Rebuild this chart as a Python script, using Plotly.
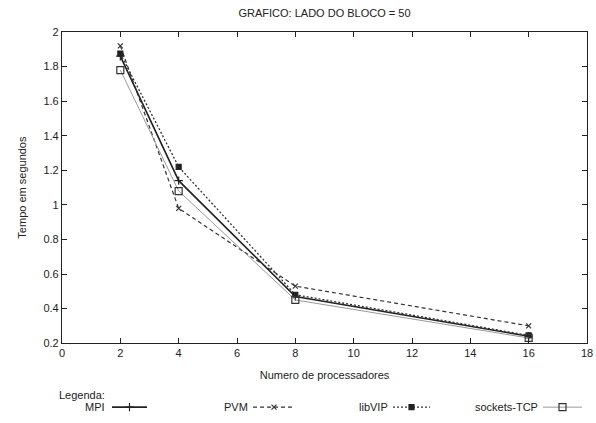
import plotly.graph_objects as go

procs = [2, 4, 8, 16]
mpi = [1.86, 1.14, 0.47, 0.24]
pvm = [1.92, 0.98, 0.53, 0.30]
libvip = [1.875, 1.22, 0.48, 0.245]
sockets = [1.78, 1.08, 0.45, 0.23]

names = ["MPI", "PVM", "libVIP", "sockets-TCP"]
styles = [
    dict(color="#222", width=1.6, dash="solid", symbol="cross-thin", msize=6, mcolor="#222"),
    dict(color="#333", width=1.2, dash="4px,3px", symbol="x-thin", msize=5, mcolor="#333"),
    dict(color="#333", width=1.3, dash="2px,2px", symbol="square", msize=5, mcolor="#222"),
    dict(color="#999", width=1.0, dash="solid", symbol="square-open", msize=7, mcolor="#333"),
]
series = [mpi, pvm, libvip, sockets]

fig = go.Figure()
for name, vals, s in zip(names, series, styles):
    fig.add_trace(go.Scatter(
        x=procs, y=vals, mode="lines+markers", name=name, showlegend=False,
        line=dict(color=s["color"], width=s["width"], dash=s["dash"]),
        marker=dict(symbol=s["symbol"], size=s["msize"], color=s["mcolor"],
                    line=dict(color=s["mcolor"], width=1.2)),
    ))

# legend block (helper axis measured in page pixels)
leg_line = [(112, 147), (253, 295), (393, 430), (543, 582)]
leg_text_end = [107, 250, 390, 540]
leg_y = 413
for name, s, (x0, x1), xt in zip(names, styles, leg_line, leg_text_end):
    fig.add_trace(go.Scatter(
        x=[x0, (x0 + x1) / 2, x1], y=[leg_y] * 3, xaxis="x2", yaxis="y2",
        mode="lines", showlegend=False, hoverinfo="skip",
        line=dict(color=s["color"], width=s["width"], dash=s["dash"]),
    ))
    fig.add_trace(go.Scatter(
        x=[(x0 + x1) / 2], y=[leg_y], xaxis="x2", yaxis="y2",
        mode="markers", showlegend=False, hoverinfo="skip",
        marker=dict(symbol=s["symbol"], size=s["msize"], color=s["mcolor"],
                    line=dict(color=s["mcolor"], width=1.2)),
    ))
    fig.add_annotation(x=xt, y=leg_y, xref="x2", yref="y2", text=name,
                       showarrow=False, xanchor="right", yanchor="middle",
                       font=dict(size=11, color="#222"))

fig.add_annotation(x=(57 - 62) / 525, y=(423 - 401) / 391, xref="paper", yref="paper",
                   text="Legenda:", showarrow=False, xanchor="left", yanchor="middle",
                   font=dict(size=11, color="#222"))

axis_common = dict(showline=True, linecolor="#222", linewidth=1.2, mirror="ticks",
                   ticks="inside", ticklen=5, tickcolor="#222", showgrid=False,
                   zeroline=False, tickfont=dict(size=11, color="#222"))

fig.update_layout(
    width=596, height=423,
    margin=dict(l=62, r=9, t=32, b=0),
    paper_bgcolor="white", plot_bgcolor="white",
    font=dict(family="Liberation Sans, Arial, sans-serif", size=11, color="#222"),
    title=dict(text="GRAFICO: LADO DO BLOCO = 50", x=0.5, xref="paper", xanchor="center",
               y=0.969, yanchor="middle", font=dict(size=11, color="#222")),
    xaxis=dict(range=[0, 18], dtick=2, tick0=0,
               title=dict(text="Numero de processadores", standoff=12,
                          font=dict(size=11, color="#222")),
               **axis_common),
    yaxis=dict(range=[0.2, 2], dtick=0.2, tick0=0.2, domain=[75 / 391, 1],
               title=dict(text="Tempo em segundos", standoff=14,
                          font=dict(size=11, color="#222")),
               **axis_common),
    xaxis2=dict(domain=[0, 1], range=[62, 587], visible=False, anchor="y2"),
    yaxis2=dict(domain=[0, 0.1], range=[423, 423 - 39.1], visible=False, anchor="x2"),
)

fig.write_html("out.html")
